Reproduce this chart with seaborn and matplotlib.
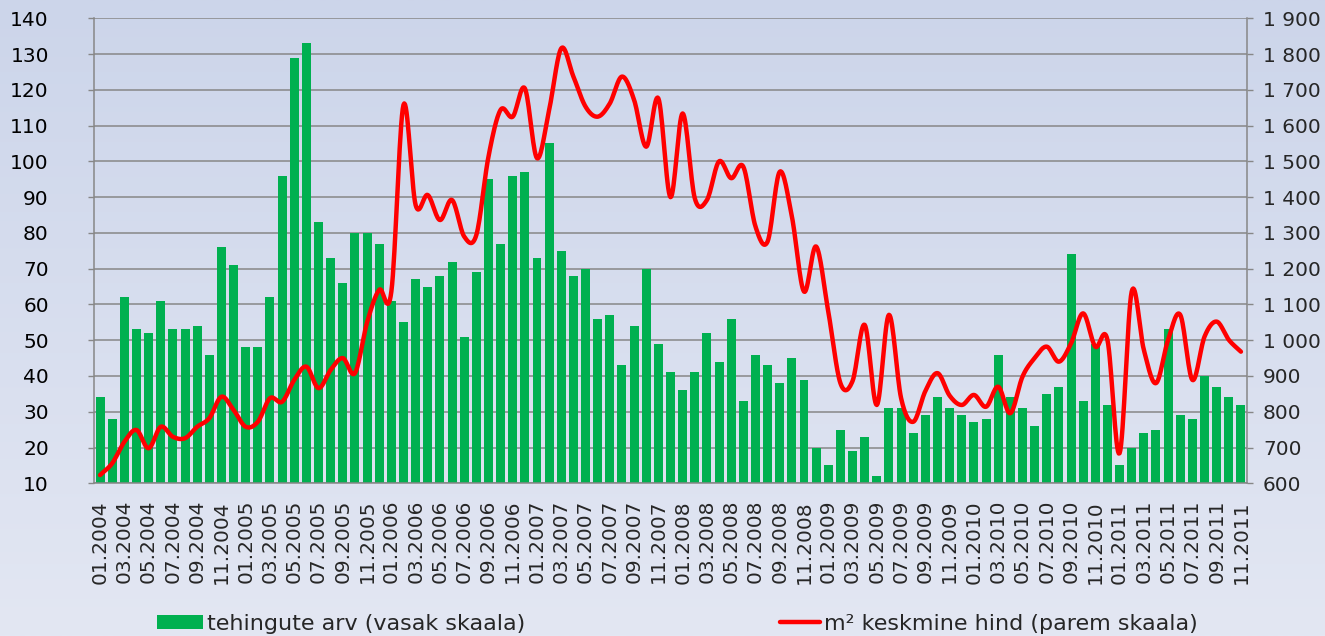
import numpy as np
import pandas as pd
import matplotlib
matplotlib.use("Agg")
import matplotlib.pyplot as plt
from matplotlib.patches import Patch
from matplotlib.lines import Line2D
from matplotlib.ticker import FixedLocator, FuncFormatter
import seaborn as sns

# ---------------- data ----------------
years = list(range(2004, 2012))
months = [f"{m:02d}.{y}" for y in years for m in range(1, 13)][:95]  # 01.2004 .. 11.2011

deal_counts = [
    34, 28, 62, 53, 52, 61, 53, 53, 54, 46,
    76, 71, 48, 48, 62, 96, 129, 133, 83, 73,
    66, 80, 80, 77, 61, 55, 67, 65, 68, 72,
    51, 69, 95, 77, 96, 97, 73, 105, 75, 68,
    70, 56, 57, 43, 54, 70, 49, 41, 36, 41,
    52, 44, 56, 33, 46, 43, 38, 45, 39, 20,
    15, 25, 19, 23, 12, 31, 31, 24, 29, 34,
    31, 29, 27, 28, 46, 34, 31, 26, 35, 37,
    74, 33, 49, 32, 15, 20, 24, 25, 53, 29,
    28, 40, 37, 34, 32,
]

avg_price = [
    623, 656, 716, 749, 698, 758, 730, 726, 758, 782,
    842, 805, 758, 772, 838, 828, 889, 926, 866, 917,
    950, 908, 1050, 1141, 1136, 1658, 1378, 1406, 1336, 1392,
    1290, 1294, 1513, 1644, 1625, 1704, 1509, 1644, 1816, 1737,
    1653, 1625, 1662, 1737, 1672, 1541, 1676, 1400, 1634, 1397,
    1392, 1500, 1453, 1485, 1318, 1276, 1471, 1346, 1136, 1262,
    1080, 880, 886, 1043, 819, 1071, 838, 772, 858, 908,
    845, 819, 847, 814, 870, 796, 898, 950, 982, 940,
    991, 1075, 982, 1001, 684, 1136, 973, 880, 1001, 1071,
    889, 1010, 1052, 1001, 968,
]

left_ticks = list(range(10, 141, 10))
right_ticks = list(range(600, 1901, 100))

bar_label = "tehingute arv (vasak skaala)"
line_label = "m² keskmine hind (parem skaala)"

# ---------------- style ----------------
BAR_COLOR = "#00B050"
LINE_COLOR = "#FF0000"
GRID_COLOR = "#878787"
FS_TICK = 14.5
FS_LEG = 16

sns.set_style("white")
plt.rcParams["font.family"] = ["DejaVu Sans"]

W, H = 1325, 636
fig = plt.figure(figsize=(W / 100, H / 100), dpi=100)

# background gradient
bg = fig.add_axes([0, 0, 1, 1], zorder=-10)
top = np.array([0xCC, 0xD5, 0xEA]) / 255
bot = np.array([0xE3, 0xE7, 0xF3]) / 255
t = np.linspace(0, 1, 256)[:, None]
grad = (top[None, :] * (1 - t) + bot[None, :] * t)[:, None, :]
bg.imshow(grad, aspect="auto", extent=[0, 1, 0, 1])
bg.axis("off")

x0, x1 = 94, 1247
y_top, y_bot = 18.3, 483.3
ax = fig.add_axes([x0 / W, (H - y_bot) / H, (x1 - x0) / W, (y_bot - y_top) / H])
ax.patch.set_alpha(0)

df = pd.DataFrame({"month": months, "count": deal_counts})
sns.barplot(data=df, x="month", y="count", color=BAR_COLOR, saturation=1,
            width=0.74, ax=ax, zorder=2, linewidth=0, edgecolor="none")
ax.set_xlim(-0.5, len(months) - 0.5)
ax.set_ylim(10, 140)
ax.set_xlabel("")
ax.set_ylabel("")
ax.set_axisbelow(True)

ax.yaxis.set_major_locator(FixedLocator(left_ticks))
ax.yaxis.set_major_formatter(FuncFormatter(lambda v, p: f"{int(v)}"))
ax.grid(axis="y", color=GRID_COLOR, linewidth=1.1)
ax.grid(axis="x", visible=False)

xpos = np.arange(len(months))
ax.xaxis.set_major_locator(FixedLocator(xpos[::2]))
ax.set_xticklabels(months[::2], rotation=90, fontsize=FS_TICK, va="top", ha="center")
ax.xaxis.set_minor_locator(FixedLocator(np.arange(-0.5, len(months), 2)))

for side in ["top", "right"]:
    ax.spines[side].set_visible(False)
for side in ["left", "bottom"]:
    ax.spines[side].set_color(GRID_COLOR)
    ax.spines[side].set_linewidth(1.1)

# secondary axis with smoothed price line
ax2 = ax.twinx()
ax2.patch.set_alpha(0)
ax2.set_ylim(600, 1900)


def catmull_rom(x, y, n=16):
    x = np.asarray(x, float)
    y = np.asarray(y, float)
    px = np.concatenate([[2 * x[0] - x[1]], x, [2 * x[-1] - x[-2]]])
    py = np.concatenate([[2 * y[0] - y[1]], y, [2 * y[-1] - y[-2]]])
    xs, ys = [], []
    s = np.linspace(0, 1, n, endpoint=False)
    for i in range(1, len(px) - 2):
        for P, out in ((px, xs), (py, ys)):
            p0, p1, p2, p3 = P[i - 1], P[i], P[i + 1], P[i + 2]
            out.extend(0.5 * (2 * p1 + (-p0 + p2) * s
                              + (2 * p0 - 5 * p1 + 4 * p2 - p3) * s ** 2
                              + (-p0 + 3 * p1 - 3 * p2 + p3) * s ** 3))
    xs.append(x[-1])
    ys.append(y[-1])
    return np.array(xs), np.array(ys)


sx, sy = catmull_rom(xpos, avg_price)
sns.lineplot(x=sx, y=sy, ax=ax2, color=LINE_COLOR, linewidth=3.2, sort=False,
             estimator=None, zorder=5)
ax2.set_xlim(-0.5, len(months) - 0.5)
ax2.yaxis.set_major_locator(FixedLocator(right_ticks))
ax2.yaxis.set_major_formatter(FuncFormatter(lambda v, p: f"{int(v):,}".replace(",", " ")))
ax2.set_ylabel("")
for side in ["top", "left", "bottom"]:
    ax2.spines[side].set_visible(False)
ax2.spines["right"].set_color(GRID_COLOR)
ax2.spines["right"].set_linewidth(1.1)
ax2.grid(False)

# tick styling
ax.tick_params(axis="x", which="major", length=0, pad=12, labelsize=FS_TICK)
ax.tick_params(axis="x", which="minor", length=5, width=1, color=GRID_COLOR, direction="out")
ax.tick_params(axis="y", which="major", length=4.5, width=1, color=GRID_COLOR,
               direction="out", pad=28, labelsize=FS_TICK, labelcolor="black",
               left=True, labelleft=True)
ax2.tick_params(axis="y", which="major", length=4.5, width=1, color=GRID_COLOR,
                direction="out", pad=7, labelsize=FS_TICK, right=True, labelright=True)

# legends
yleg = 1 - 624 / H
fig.legend(handles=[Patch(facecolor=BAR_COLOR, edgecolor="none", label=bar_label)],
           loc="center left", bbox_to_anchor=(157 / W, yleg), frameon=False,
           fontsize=FS_LEG, handlelength=2.05, handleheight=0.55, handletextpad=0.2,
           borderpad=0, borderaxespad=0)
fig.legend(handles=[Line2D([], [], color=LINE_COLOR, linewidth=3.2, label=line_label)],
           loc="center left", bbox_to_anchor=(780 / W, yleg), frameon=False,
           fontsize=FS_LEG, handlelength=1.8, handletextpad=0.2,
           borderpad=0, borderaxespad=0)

fig.savefig("out.png", dpi=100)
